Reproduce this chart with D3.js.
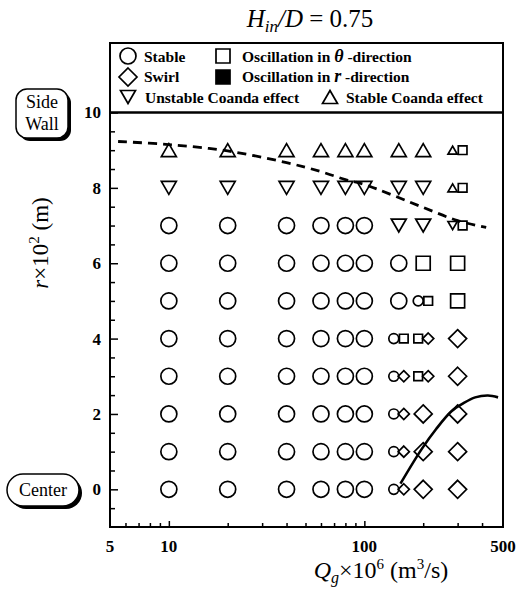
<!doctype html>
<html>
<head>
<meta charset="utf-8">
<title>Flow regimes, Hin/D = 0.75</title>
<script src="https://d3js.org/d3.v7.min.js"></script>
<style>
  body { margin: 0; background: #fff; }
  svg text { font-family: "Liberation Serif", "DejaVu Serif", serif; fill: #000; }
  .tick text { font-weight: bold; font-size: 17px; }
  .leg { font-weight: bold; font-size: 15.5px; }
</style>
</head>
<body>
<script>
// gas flow rates (x columns) and radial positions (rows)
const flowRates = [10, 20, 40, 60, 80, 100, 150, 200, 300];
const radialPos = [9, 8, 7, 6, 5, 4, 3, 2, 1, 0];
// C stable, D swirl, S oscillation theta, U unstable coanda, A stable coanda
// "X+Y" = two small markers (mixed regime)
const regimes = [
  ["A", "A", "A", "A", "A", "A", "A", "A", "A+S"],
  ["U", "U", "U", "U", "U", "U", "U", "U", "A+S"],
  ["C", "C", "C", "C", "C", "C", "U", "U", "U+S"],
  ["C", "C", "C", "C", "C", "C", "C", "S", "S"],
  ["C", "C", "C", "C", "C", "C", "C", "C+S", "S"],
  ["C", "C", "C", "C", "C", "C", "C+S", "S+D", "D"],
  ["C", "C", "C", "C", "C", "C", "C+D", "S+D", "D"],
  ["C", "C", "C", "C", "C", "C", "C+D", "D", "D"],
  ["C", "C", "C", "C", "C", "C", "C+D", "D", "D"],
  ["C", "C", "C", "C", "C", "C", "C+D", "D", "D"]
];
// boundary curves
const coandaQ = [5.5, 10, 20, 40, 60, 80, 100, 200, 300, 420];
const coandaR = [9.23, 9.15, 8.98, 8.67, 8.43, 8.22, 8.09, 7.48, 7.13, 6.95];
const swirlQ = [153, 196, 233, 279, 320, 369, 429, 483];
const swirlR = [0.15, 1.06, 1.6, 2.07, 2.28, 2.44, 2.49, 2.44];
// axis ticks
const xLabelTicks = [5, 10, 100, 500];
const xMajorTicks = [10, 100];
const xMinorTicks = [6, 7, 8, 9, 20, 30, 40, 50, 60, 70, 80, 90, 200, 300, 400];
const yLabelTicks = [0, 2, 4, 6, 8, 10];
const yMinorTicks = [-0.5, 0.5, 1, 1.5, 2.5, 3, 3.5, 4.5, 5, 5.5, 6.5, 7, 7.5, 8.5, 9, 9.5];

const w = 520, h = 592;
const pLeft = 110, pRight = 503, pTop = 43, pBottom = 527;

const svg = d3.select("body").append("svg")
  .attr("width", w).attr("height", h);

const x = d3.scaleLog().domain([5, 500]).range([pLeft, 501]);
const y = d3.scaleLinear().domain([-1, 10]).range([pBottom, 112.5]);

// marker shapes
function shape(type, cx, cy, small) {
  const k = small ? 0.62 : 1;
  if (type === "C") {
    const r = 8 * k;
    return `M${cx + r},${cy}A${r},${r} 0 1,1 ${cx - r},${cy}A${r},${r} 0 1,1 ${cx + r},${cy}Z`;
  }
  if (type === "D") {
    const a = 9 * k;
    return `M${cx},${cy - a}L${cx + a},${cy}L${cx},${cy + a}L${cx - a},${cy}Z`;
  }
  if (type === "S" || type === "F") {
    const a = 7 * k;
    return `M${cx - a},${cy - a}h${2 * a}v${2 * a}h${-2 * a}Z`;
  }
  const hw = 7.5 * k, hh = 6.5 * k;
  if (type === "A") return `M${cx},${cy - hh}L${cx + hw},${cy + hh}L${cx - hw},${cy + hh}Z`;
  return `M${cx - hw},${cy - hh}L${cx + hw},${cy - hh}L${cx},${cy + hh}Z`;
}

// flatten data
const pts = [];
regimes.forEach((row, i) => {
  row.forEach((code, j) => {
    const parts = code.split("+");
    if (parts.length === 1) {
      pts.push({ q: flowRates[j], r: radialPos[i], t: parts[0], dx: 0, small: false });
    } else {
      pts.push({ q: flowRates[j], r: radialPos[i], t: parts[0], dx: -5, small: true });
      pts.push({ q: flowRates[j], r: radialPos[i], t: parts[1], dx: 5, small: true });
    }
  });
});

// axes
const yMinor = d3.axisLeft(y).tickValues(yMinorTicks).tickSize(-5).tickFormat("");
const yMajor = d3.axisLeft(y).tickValues(yLabelTicks).tickSize(-8).tickPadding(9).tickFormat(d3.format("d"));
const xMinor = d3.axisBottom(x).tickValues(xMinorTicks).tickSize(-4).tickFormat("");
const xMajor = d3.axisBottom(x).tickValues(xMajorTicks).tickSize(-6).tickFormat("");

[yMinor, yMajor].forEach(a => {
  svg.append("g").attr("transform", `translate(${pLeft},0)`).call(a)
    .call(g => g.select(".domain").remove())
    .call(g => g.selectAll(".tick line").attr("stroke-width", 1.5));
});
[xMinor, xMajor].forEach(a => {
  svg.append("g").attr("transform", `translate(0,${pBottom})`).call(a)
    .call(g => g.select(".domain").remove())
    .call(g => g.selectAll(".tick line").attr("stroke-width", 1.5));
});
// x tick labels
svg.append("g").selectAll("text")
  .data(xLabelTicks).enter().append("text")
  .attr("x", d => x(d) + (d === 500 ? 2 : 0))
  .attr("y", pBottom + 25)
  .attr("text-anchor", "middle")
  .style("font-weight", "bold").style("font-size", "17px")
  .text(d => d);

// frame and legend box
svg.append("rect").attr("x", pLeft).attr("y", pTop)
  .attr("width", pRight - pLeft).attr("height", pBottom - pTop)
  .attr("fill", "none").attr("stroke", "#000").attr("stroke-width", 2);
svg.append("line").attr("x1", pLeft).attr("x2", pRight)
  .attr("y1", y(10)).attr("y2", y(10))
  .attr("stroke", "#000").attr("stroke-width", 2.5);

// boundary curves
const coanda = coandaQ.map((q, i) => [q, coandaR[i]]);
const swirl = swirlQ.map((q, i) => [q, swirlR[i]]);
const line = d3.line().x(d => x(d[0])).y(d => y(d[1])).curve(d3.curveCatmullRom);
svg.append("path").attr("d", line(coanda))
  .attr("fill", "none").attr("stroke", "#000").attr("stroke-width", 2.8)
  .attr("stroke-dasharray", "9,6");
svg.append("path").attr("d", line(swirl))
  .attr("fill", "none").attr("stroke", "#000").attr("stroke-width", 2.6);

// markers
svg.append("g").selectAll("path")
  .data(pts).enter().append("path")
  .attr("d", d => shape(d.t, x(d.q) + d.dx, y(d.r), d.small))
  .attr("fill", "none").attr("stroke", "#000").attr("stroke-width", 1.7);

// legend
const legendItems = [
  { t: "C", cx: 128, cy: 56, tx: 144, ty: 62, label: ["Stable"] },
  { t: "S", cx: 223, cy: 56, tx: 242, ty: 62, label: ["Oscillation in ", "θ", " -direction"] },
  { t: "D", cx: 128, cy: 77, tx: 144, ty: 82, label: ["Swirl"] },
  { t: "F", cx: 223, cy: 77, tx: 242, ty: 82, label: ["Oscillation in ", "r", " -direction"] },
  { t: "U", cx: 128, cy: 97, tx: 145, ty: 103, label: ["Unstable Coanda effect"] },
  { t: "A", cx: 330, cy: 97, tx: 346, ty: 103, label: ["Stable Coanda effect"] }
];
const leg = svg.append("g");
legendItems.forEach(it => {
  leg.append("path").attr("d", shape(it.t, it.cx, it.cy, false))
    .attr("fill", it.t === "F" ? "#000" : "none")
    .attr("stroke", "#000").attr("stroke-width", 1.7);
  const tx = leg.append("text").attr("class", "leg").attr("x", it.tx).attr("y", it.ty);
  it.label.forEach((s, i) => {
    tx.append("tspan").text(s)
      .style("font-style", i === 1 ? "italic" : "normal")
      .style("font-size", i === 1 ? "18px" : null);
  });
});

// title
const title = svg.append("text").attr("x", 310).attr("y", 27)
  .attr("text-anchor", "middle").style("font-size", "25px");
title.append("tspan").style("font-style", "italic").text("H");
title.append("tspan").style("font-style", "italic").style("font-size", "17px").attr("dy", 5).text("in");
title.append("tspan").style("font-style", "italic").attr("dy", -5).text("/D");
title.append("tspan").text(" = 0.75");

// x axis label
const xl = svg.append("text").attr("x", 381).attr("y", 578)
  .attr("text-anchor", "middle").style("font-size", "24px");
xl.append("tspan").style("font-style", "italic").text("Q");
xl.append("tspan").style("font-style", "italic").style("font-size", "16px").attr("dy", 5).text("g");
xl.append("tspan").attr("dy", -5).text("×10");
xl.append("tspan").style("font-size", "15px").attr("dy", -9).text("6");
xl.append("tspan").attr("dy", 9).text(" (m");
xl.append("tspan").style("font-size", "15px").attr("dy", -9).text("3");
xl.append("tspan").attr("dy", 9).text("/s)");

// y axis label
const yl = svg.append("text")
  .attr("transform", "translate(48,243) rotate(-90)")
  .attr("text-anchor", "middle").style("font-size", "23px");
yl.append("tspan").style("font-style", "italic").text("r");
yl.append("tspan").text("×10");
yl.append("tspan").style("font-size", "15px").attr("dy", -9).text("2");
yl.append("tspan").attr("dy", 9).text(" (m)");

// side labels
function tag(x0, y0, bw, bh, rx, lines, ty) {
  const g = svg.append("g");
  g.append("rect").attr("x", x0 + 3).attr("y", y0 + 3).attr("width", bw).attr("height", bh)
    .attr("rx", rx).attr("fill", "#000");
  g.append("rect").attr("x", x0).attr("y", y0).attr("width", bw).attr("height", bh)
    .attr("rx", rx).attr("fill", "#fff").attr("stroke", "#000").attr("stroke-width", 1.5);
  lines.forEach((s, i) => {
    g.append("text").attr("x", x0 + bw / 2).attr("y", ty + i * 22)
      .attr("text-anchor", "middle").style("font-size", "18px").text(s);
  });
}
tag(16, 89, 52, 49, 11, ["Side", "Wall"], 108);
tag(7, 474, 72, 32, 16, ["Center"], 496);
</script>
</body>
</html>
